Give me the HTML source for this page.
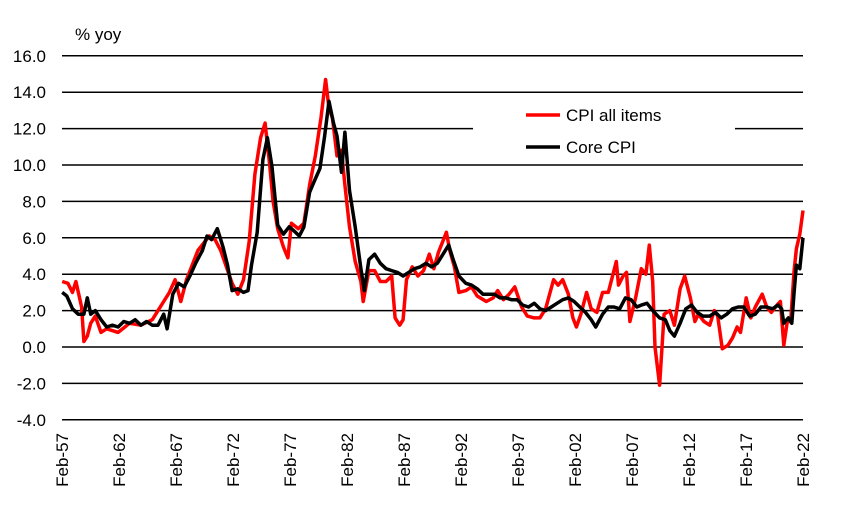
<!DOCTYPE html>
<html><head><meta charset="utf-8"><style>
body{margin:0;background:#fff}
svg text{font-family:"Liberation Sans",Arial,sans-serif;fill:#000}
</style></head><body>
<svg id="chart" width="854" height="523" viewBox="0 0 854 523" xmlns="http://www.w3.org/2000/svg">
<text x="75" y="40" font-size="17">% yoy</text>
<g id="grid"></g><g id="ylab"></g><g id="xlab"></g><g id="series"></g>
<rect x="473" y="98" width="262" height="64" fill="#fff"/>
<g><line x1="526" y1="115" x2="560" y2="115" stroke="#ff0000" stroke-width="3.5"/><text x="566" y="121" font-size="17">CPI all items</text></g>
<g><line x1="526" y1="147" x2="560" y2="147" stroke="#000" stroke-width="3.5"/><text x="566" y="153" font-size="17">Core CPI</text></g>
</svg>
<script>
const yTicks=[16,14,12,10,8,6,4,2,0,-2,-4];
const xTickYears=[1957,1962,1967,1972,1977,1982,1987,1992,1997,2002,2007,2012,2017,2022];
const cpiT=[1957.1,1957.6,1958.0,1958.3,1958.8,1959.0,1959.3,1959.6,1960.0,1960.5,1961,1962,1963,1964,1965,1966,1966.5,1967.0,1967.5,1968.0,1969,1970,1970.5,1971,1971.5,1972,1972.5,1973,1973.5,1974,1974.5,1974.9,1975.3,1975.6,1976,1976.5,1976.9,1977.2,1977.8,1978.3,1978.8,1979.3,1979.8,1980.2,1980.5,1980.8,1981.2,1981.6,1981.9,1982.3,1982.8,1983.3,1983.5,1984,1984.5,1985,1985.5,1986,1986.3,1986.7,1987.0,1987.3,1987.8,1988.3,1988.8,1989.3,1989.7,1990.1,1990.8,1991.1,1991.5,1991.9,1992.5,1993.0,1993.5,1994.3,1994.9,1995.3,1995.8,1996.3,1996.8,1997.4,1997.9,1998.5,1999.0,1999.5,2000.2,2000.6,2001.0,2001.5,2001.9,2002.2,2002.6,2003.1,2003.5,2004.0,2004.5,2005.0,2005.7,2005.9,2006.3,2006.6,2006.9,2007.4,2007.9,2008.3,2008.6,2008.9,2009.1,2009.5,2009.9,2010.4,2010.8,2011.3,2011.7,2012.2,2012.6,2012.9,2013.4,2013.9,2014.3,2014.6,2015.0,2015.5,2015.9,2016.3,2016.6,2017.1,2017.5,2017.9,2018.5,2018.9,2019.3,2019.8,2020.1,2020.4,2020.7,2021.0,2021.3,2021.5,2021.8,2022.08];
const cpiV=[3.6,3.5,3.0,3.6,2.2,0.3,0.6,1.3,1.7,0.8,1.0,0.8,1.3,1.2,1.5,2.5,3.0,3.7,2.5,3.7,5.3,6.1,5.9,5.3,4.4,3.5,2.9,3.7,5.8,9.5,11.5,12.3,10.0,8.0,6.5,5.5,4.9,6.8,6.5,6.8,8.9,10.5,12.6,14.7,13.1,12.6,10.5,10.8,8.9,6.6,4.7,3.6,2.5,4.2,4.2,3.6,3.6,3.9,1.6,1.2,1.5,3.7,4.4,3.9,4.2,5.1,4.3,5.2,6.3,5.3,4.4,3.0,3.1,3.3,2.8,2.5,2.7,3.1,2.6,2.9,3.3,2.2,1.7,1.6,1.6,2.1,3.7,3.4,3.7,2.9,1.6,1.1,1.8,3.0,2.1,1.9,3.0,3.0,4.7,3.4,3.9,4.1,1.4,2.7,4.3,4.0,5.6,3.6,0.0,-2.1,1.8,2.0,1.2,3.2,3.9,2.7,1.4,1.8,1.4,1.2,2.0,1.7,-0.1,0.1,0.5,1.1,0.8,2.7,1.6,2.2,2.9,2.2,1.9,2.3,2.5,0.1,1.4,1.4,4.2,5.4,6.2,7.5];
const coreT=[1957.1,1957.5,1958.0,1958.5,1959.0,1959.3,1959.6,1960.0,1960.5,1961.0,1961.5,1962,1962.5,1963,1963.5,1964,1964.5,1965,1965.5,1966.0,1966.3,1966.8,1967.3,1967.8,1968.3,1968.8,1969.4,1969.8,1970.2,1970.7,1971.2,1971.6,1972.0,1972.5,1973.0,1973.4,1973.7,1974.2,1974.7,1975.1,1975.5,1976.0,1976.5,1977.0,1977.4,1977.9,1978.3,1978.8,1979.2,1979.7,1980.1,1980.5,1980.9,1981.2,1981.6,1981.9,1982.3,1982.8,1983.3,1983.6,1984.0,1984.5,1985.0,1985.5,1986.0,1986.5,1987.0,1987.5,1988.0,1988.5,1989.0,1989.5,1990.0,1990.5,1991.0,1991.4,1991.9,1992.5,1993.0,1993.5,1994.0,1994.5,1995.0,1995.5,1996.0,1996.5,1997,1997.5,1998.0,1998.5,1999.0,1999.5,2000.0,2000.5,2001.0,2001.5,2002.0,2002.5,2003.0,2003.5,2003.9,2004.5,2005.0,2005.5,2006.0,2006.5,2007.0,2007.5,2007.9,2008.4,2008.9,2009.5,2010.0,2010.4,2010.8,2011.3,2011.8,2012.3,2012.8,2013.3,2013.9,2014.4,2014.9,2015.4,2015.9,2016.4,2016.9,2017.4,2017.9,2018.4,2018.9,2019.4,2019.9,2020.2,2020.4,2020.8,2021.1,2021.3,2021.5,2021.8,2022.08];
const coreV=[3.0,2.8,2.1,1.8,1.8,2.7,1.8,2.0,1.5,1.1,1.2,1.1,1.4,1.3,1.5,1.2,1.4,1.2,1.2,1.8,1.0,2.9,3.5,3.3,3.9,4.6,5.3,6.1,5.9,6.5,5.5,4.5,3.1,3.2,3.0,3.1,4.5,6.3,10.3,11.5,9.9,6.7,6.2,6.6,6.4,6.1,6.6,8.5,9.1,9.8,11.5,13.5,12.3,11.6,9.6,11.8,8.6,6.6,4.3,3.1,4.8,5.1,4.6,4.3,4.2,4.1,3.9,4.1,4.3,4.4,4.6,4.4,4.6,5.1,5.6,4.8,3.9,3.5,3.4,3.2,2.9,2.9,2.9,2.7,2.7,2.6,2.6,2.3,2.2,2.4,2.1,2.0,2.2,2.4,2.6,2.7,2.5,2.2,1.9,1.5,1.1,1.8,2.2,2.2,2.1,2.7,2.6,2.2,2.3,2.4,2.0,1.6,1.5,0.9,0.6,1.3,2.1,2.3,1.9,1.7,1.7,1.9,1.6,1.8,2.1,2.2,2.2,1.7,1.8,2.2,2.2,2.1,2.3,2.1,1.3,1.6,1.3,3.0,4.5,4.3,6.0];
const X0=62,X1=803,T0=1957.08,T1=2022.08,Y0=347,PU=18.2;
const xs=t=>X0+(t-T0)/(T1-T0)*(X1-X0);
const ys=v=>Y0-v*PU;
const NS='http://www.w3.org/2000/svg';
const g=id=>document.getElementById(id);
yTicks.forEach(v=>{
 const l=document.createElementNS(NS,'line');
 l.setAttribute('x1',X0);l.setAttribute('x2',X1);l.setAttribute('y1',ys(v));l.setAttribute('y2',ys(v));
 l.setAttribute('stroke','#000');l.setAttribute('stroke-width','1.5');
 
 
 g('grid').appendChild(l);
 const t=document.createElementNS(NS,'text');
 t.setAttribute('x',46);t.setAttribute('y',ys(v)+6);t.setAttribute('text-anchor','end');t.setAttribute('font-size','17');
 t.textContent=v.toFixed(1);
 
 
 g('ylab').appendChild(t);
});
xTickYears.forEach(yr=>{
 const x=xs(yr+0.08)+6;
 const t=document.createElementNS(NS,'text');
 t.setAttribute('transform',`translate(${x},433) rotate(-90)`);
 t.setAttribute('text-anchor','end');t.setAttribute('font-size','17');
 t.textContent='Feb-'+String(yr).slice(2);
 
 
 g('xlab').appendChild(t);
});
function line(T,V,c,name){
 const p=document.createElementNS(NS,'polyline');
 p.setAttribute('points',T.map((t,i)=>xs(t).toFixed(1)+','+ys(V[i]).toFixed(1)).join(' '));
 p.setAttribute('fill','none');p.setAttribute('stroke',c);p.setAttribute('stroke-width','3.5');p.setAttribute('stroke-linejoin','round');
 
 
 g('series').appendChild(p);
}
line(cpiT,cpiV,'#ff0000','cpi-all-items-line');
line(coreT,coreV,'#000000','core-cpi-line');
</script>
</body></html>
